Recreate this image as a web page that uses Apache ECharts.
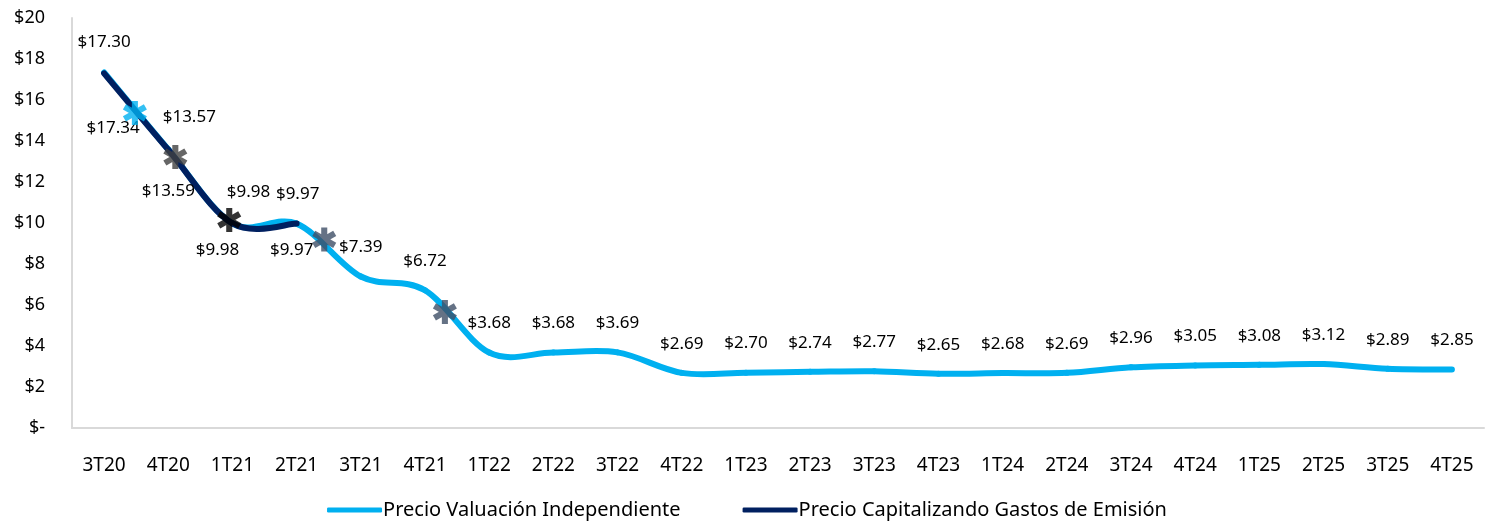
<!doctype html>
<html>
<head>
<meta charset="utf-8">
<title>Precio</title>
<script src="https://cdn.jsdelivr.net/npm/echarts@6/dist/echarts.min.js"></script>
<style>
  html, body { margin: 0; padding: 0; background: #fff; }
  #chart { width: 1494px; height: 525px; }
</style>
</head>
<body>
<div id="chart"></div>
<script>
// data
var quarters = ["3T20", "4T20", "1T21", "2T21", "3T21", "4T21", "1T22", "2T22", "3T22", "4T22", "1T23",
  "2T23", "3T23", "4T23", "1T24", "2T24", "3T24", "4T24", "1T25", "2T25", "3T25", "4T25"];
var precioValuacion = [17.34, 13.59, 9.98, 9.97, 7.39, 6.72, 3.68, 3.68, 3.69, 2.69, 2.70,
  2.74, 2.77, 2.65, 2.68, 2.69, 2.96, 3.05, 3.08, 3.12, 2.89, 2.85];
var precioCapitalizando = [17.30, 13.57, 9.98, 9.97];
// asterisk annotations: position in quarter units, value, colour
var starX = [0.48, 1.11, 1.95, 3.43, 5.31];
var starY = [15.37, 13.22, 10.15, 9.2, 5.66];
var starColor = ["#00b0f0", "#404040", "#000000", "#3f4f66", "#3f4f66"];

var LIGHT = "#00b0f0";
var DARK = "#002060";
var FONT = "'Noto Sans', sans-serif";

// label offsets (style only)
var lightOffsets = [[9, 56], [0, 42], [-15, 27], [-5, 27]];
var darkOffsets = [[0, -31], [21, -33], [16, -31], [1, -29]];

function asteriskPath() {
  var parts = [];
  var angles = [90, 30, -30];
  var h = 10, w = 2.5;
  angles.forEach(function (a) {
    var r = a * Math.PI / 180;
    var cx = Math.cos(r), cy = Math.sin(r);
    var px = -cy, py = cx;
    var pts = [
      [cx * h + px * w, cy * h + py * w],
      [cx * h - px * w, cy * h - py * w],
      [-cx * h - px * w, -cy * h - py * w],
      [-cx * h + px * w, -cy * h + py * w]
    ];
    parts.push("M" + pts.map(function (p) { return (p[0] + 12).toFixed(2) + " " + (p[1] + 12).toFixed(2); }).join(" L") + " Z");
  });
  return "path://" + parts.join(" ");
}

// Excel-like smoothing: one bezier per segment, built from axis coordinates
function smoothRender(values, color) {
  return function (params, api) {
    var i = params.dataIndex;
    var n = values.length;
    if (i >= n - 1) return null;
    function pt(k) {
      k = Math.max(0, Math.min(n - 1, k));
      return api.coord([k, values[k]]);
    }
    var p0 = pt(i - 1), p1 = pt(i), p2 = pt(i + 1), p3 = pt(i + 2);
    return {
      type: "bezierCurve",
      shape: {
        x1: p1[0], y1: p1[1], x2: p2[0], y2: p2[1],
        cpx1: p1[0] + (p2[0] - p0[0]) / 6, cpy1: p1[1] + (p2[1] - p0[1]) / 6,
        cpx2: p2[0] - (p3[0] - p1[0]) / 6, cpy2: p2[1] - (p3[1] - p1[1]) / 6
      },
      style: { stroke: color, lineWidth: 6, fill: null, lineCap: "round" }
    };
  };
}

var chart = echarts.init(document.getElementById("chart"));

function money(v) {
  return "$" + Number(v).toFixed(2);
}

var labelStyle = {
  show: true,
  position: "inside",
  color: "#000",
  fontFamily: FONT,
  fontSize: 17,
  formatter: function (p) { return money(p.value); }
};

chart.setOption({
  animation: false,
  grid: { left: 72, right: 10, top: 18, bottom: 97 },
  legend: {
    bottom: 0,
    left: "center",
    icon: "roundRect",
    itemWidth: 55,
    itemHeight: 5,
    itemGap: 62,
    data: [
      { name: "Precio Valuación Independiente", itemStyle: { color: LIGHT } },
      { name: "Precio Capitalizando Gastos de Emisión", itemStyle: { color: DARK } }
    ],
    textStyle: { fontFamily: FONT, fontSize: 20, color: "#000", padding: [0, 0, 0, -4] }
  },
  xAxis: [{
    type: "category",
    data: quarters,
    boundaryGap: true,
    axisTick: { show: false },
    axisLine: { lineStyle: { color: "#d9d9d9", width: 2 } },
    axisLabel: { color: "#000", fontFamily: FONT, fontSize: 19, margin: 28 }
  }, {
    type: "value",
    min: -0.5,
    max: quarters.length - 0.5,
    show: false
  }],
  yAxis: {
    type: "value",
    min: 0,
    max: 20,
    interval: 2,
    splitLine: { show: false },
    axisLine: { show: true, onZero: false, lineStyle: { color: "#d9d9d9", width: 2 } },
    axisTick: { show: false },
    axisLabel: {
      color: "#000", fontFamily: FONT, fontSize: 18, margin: 27,
      formatter: function (v) { return v === 0 ? "$-" : "$" + v; }
    }
  },
  series: [{
    name: "Precio Valuación Independiente",
    type: "custom",
    renderItem: smoothRender(precioValuacion, LIGHT),
    data: precioValuacion.map(function (v, i) { return [i, v]; }),
    z: 2
  }, {
    name: "Precio Capitalizando Gastos de Emisión",
    type: "custom",
    renderItem: smoothRender(precioCapitalizando, DARK),
    data: precioCapitalizando.map(function (v, i) { return [i, v]; }),
    z: 3
  }, {
    name: "Precio Valuación Independiente",
    type: "line",
    symbol: "circle",
    symbolSize: 0.1,
    itemStyle: { color: LIGHT },
    lineStyle: { width: 0, opacity: 0 },
    label: labelStyle,
    data: precioValuacion.map(function (v, i) {
      return { value: v, label: { offset: lightOffsets[i] || [0, -29] } };
    }),
    z: 4
  }, {
    name: "Precio Capitalizando Gastos de Emisión",
    type: "line",
    symbol: "circle",
    symbolSize: 0.1,
    itemStyle: { color: DARK },
    lineStyle: { width: 0, opacity: 0 },
    label: labelStyle,
    data: precioCapitalizando.map(function (v, i) {
      return { value: v, label: { offset: darkOffsets[i] } };
    }),
    z: 4
  }, {
    name: "asteriscos",
    type: "scatter",
    xAxisIndex: 1,
    symbol: asteriskPath(),
    symbolSize: 24,
    data: starX.map(function (x, i) {
      return { value: [x, starY[i]], itemStyle: { color: starColor[i] } };
    }),
    z: 5
  }]
});
</script>
</body>
</html>
